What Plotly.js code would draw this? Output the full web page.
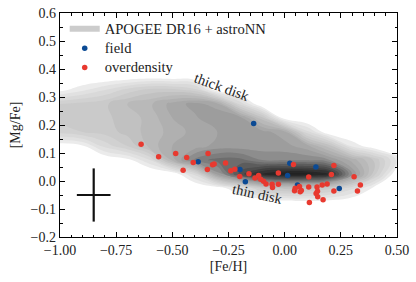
<!DOCTYPE html>
<html><head><meta charset="utf-8">
<script src="https://cdn.plot.ly/plotly-3.0.1.min.js"></script>
<style>html,body{margin:0;padding:0;background:#fff}#chart{width:416px;height:282px}</style>
</head><body><div id="chart"></div>
<script>
// Density background (APOGEE DR16 + astroNN), values read from the grey shading
const gridFeH = [-1.0,-0.9,-0.8,-0.7,-0.6,-0.5,-0.4,-0.3,-0.2,-0.1,0.0,0.1,0.2,0.3,0.4,0.5];
const gridMgFe = [-0.125,-0.075,-0.025,0.025,0.075,0.125,0.175,0.225,0.275,0.325,0.375,0.425];
const gridDensity = [
  [0,0,0,0,0,0,0,0,0,0,0,0,0,0,0,0],
  [0,0,0,0,0,0,0,0,0,0.2,0.5,0.6,0.5,0.2,0,0],
  [0,0,0,0,0,0,0,0.4,1.5,3,3.5,3.5,3,2,0.6,0],
  [0,0,0,0,0,0.3,2,5.5,8,9.5,10,10,9.3,5.8,3,0.2],
  [0,0,0.2,0.6,1.8,4.5,6.5,7,7,6.3,6.2,6.2,5.8,4.6,3.2,1.2],
  [0.4,0.7,2,2.8,4,4.8,5,5.5,5.5,5.5,5.5,5,3.5,1.2,0.3,0],
  [2.5,2.8,3,3.5,4,4.5,5,5.3,5.5,5.5,5,2,0.2,0,0,0],
  [3,3,3.2,3.5,4,4.8,5.2,5.8,5.6,3.5,0.4,0,0,0,0,0],
  [2.8,3,3.2,3.8,4.2,5,5.5,5,2.2,0.1,0,0,0,0,0,0],
  [0.6,1.2,1.8,2.5,3,3,2.6,0.4,0,0,0,0,0,0,0,0],
  [0,0,0.1,0.2,0.3,0.2,0.1,0,0,0,0,0,0,0,0,0],
  [0,0,0,0,0,0,0,0,0,0,0,0,0,0,0,0]
];
// Field stars
const fieldFeH = [-0.385,-0.199,-0.175,-0.138,0.023,0.013,0.139,0.243,0.057];
const fieldMgFe = [0.069,0.041,-0.003,0.205,0.063,0.020,0.050,-0.027,-0.014];
// Overdensity stars
const odFeH = [-0.639,-0.561,-0.485,-0.436,-0.407,-0.452,-0.341,-0.344,-0.321,-0.314,-0.263,-0.240,-0.222,-0.200,-0.159,-0.132,-0.116,-0.107,-0.094,-0.083,-0.056,-0.054,-0.028,-0.028,0.039,0.044,0.047,0.066,0.069,0.074,0.107,0.107,0.110,0.140,0.146,0.147,0.144,0.167,0.171,0.189,0.208,0.219,0.219,0.309,0.324,0.337];
const odMgFe = [0.131,0.087,0.098,0.084,0.066,0.038,0.098,0.041,0.058,0.061,0.064,0.037,0.042,0.016,0.026,0.011,0.020,0.006,-0.001,-0.011,-0.012,-0.023,0.029,-0.012,0.059,-0.035,-0.026,-0.020,-0.038,-0.034,0.014,-0.021,-0.077,-0.045,-0.037,-0.056,-0.021,-0.014,-0.067,-0.011,0.023,0.055,-0.036,0.015,-0.036,-0.014];
// Typical uncertainty cross
const errFeH = [-0.85], errMgFe = [-0.05], errDFeH = [0.075], errDMgFe = [0.095];
const seriesNames = ['APOGEE DR16 + astroNN','field','overdensity'];
const annoText = ['thick disk','thin disk'];
const annoFeH = [-0.279, -0.119];
const annoMgFe = [0.334, -0.048];
const annoAngle = [20, 12];

const FONT = 'Liberation Serif, Times New Roman, serif';
const big = s => '<span style="font-size:14.6px">' + s + '</span>';
const traces = [
  {type:'contour', x:gridFeH, y:gridMgFe, z:gridDensity, showscale:false, showlegend:false, hoverinfo:'skip',
   zmin:0, zmax:10, autocontour:false,
   contours:{start:0.3, end:10, size:0.5, coloring:'fill'},
   line:{width:0, smoothing:1.3},
   colorscale:[[0,'#ffffff'],[0.03,'#ffffff'],[0.06,'#eeeeee'],[0.15,'#dedede'],[0.3,'#c8c8c8'],[0.45,'#b0b0b0'],[0.55,'#9e9e9e'],[0.65,'#808080'],[0.75,'#606060'],[0.85,'#444444'],[0.95,'#2c2c2c'],[1,'#222222']]},
  {type:'scatter', x:[null], y:[null], mode:'none', fill:'toself', fillcolor:'#cccccc', name:big(seriesNames[0])},
  {type:'scatter', x:fieldFeH, y:fieldMgFe, mode:'markers', name:big(seriesNames[1]), marker:{color:'#0b4a94', size:5.5}},
  {type:'scatter', x:odFeH, y:odMgFe, mode:'markers', name:big(seriesNames[2]), marker:{color:'#e8392f', size:5.5}},
  {type:'scatter', x:errFeH, y:errMgFe, mode:'markers', showlegend:false, marker:{size:0.1, color:'#111'},
   error_x:{type:'data', array:errDFeH, color:'#111', thickness:2.2, width:0},
   error_y:{type:'data', array:errDMgFe, color:'#111', thickness:2.2, width:0}}
];
const axisCommon = {showgrid:false, zeroline:false, showline:true, linecolor:'#000', linewidth:1.2, mirror:'ticks',
  ticks:'inside', ticklen:5, tickwidth:1, tickcolor:'#000', tickfont:{family:FONT, size:14, color:'#222'}};
const layout = {
  width:416, height:282, margin:{l:60, r:19, t:13, b:45}, paper_bgcolor:'#fff', plot_bgcolor:'#fff',
  font:{family:FONT, color:'#222'},
  xaxis:Object.assign({}, axisCommon, {range:[-1,0.5], tick0:-1, dtick:0.25, tickformat:'.2f',
    minor:{dtick:0.05, ticklen:2.5, tickcolor:'#000', ticks:'inside'},
    title:{text:'[Fe/H]', font:{family:FONT, size:14}, standoff:4}}),
  yaxis:Object.assign({}, axisCommon, {range:[-0.2,0.6], tick0:0, dtick:0.1, tickformat:'.1f',
    minor:{dtick:0.05, ticklen:2.5, tickcolor:'#000', ticks:'inside'},
    title:{text:'[Mg/Fe]', font:{family:FONT, size:14}, standoff:6}}),
  legend:{x:0.014, y:0.995, xanchor:'left', yanchor:'top', bgcolor:'rgba(0,0,0,0)', borderwidth:0,
    font:{family:FONT, size:12.6, color:'#222'}, tracegroupgap:0},
  annotations: annoText.map((t,i)=>({x:annoFeH[i], y:annoMgFe[i], xref:'x', yref:'y', text:t, showarrow:false,
    textangle:annoAngle[i], font:{family:FONT, size:14.5, color:'#222'}}))
};
Plotly.newPlot('chart', traces, layout, {staticPlot:true, displayModeBar:false});
</script></body></html>
